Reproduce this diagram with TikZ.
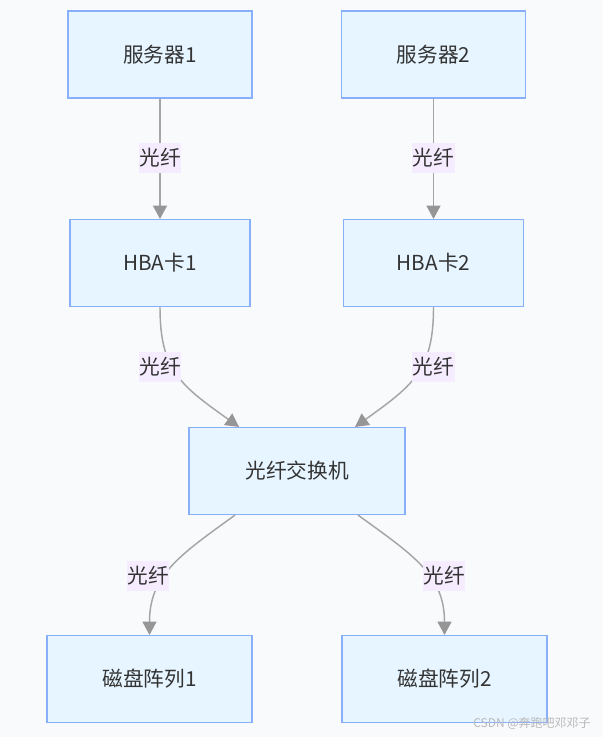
\documentclass[tikz,border=0pt]{standalone}
\usepackage{fontspec}
\newfontfamily\cjk{Noto Sans CJK SC}
\usetikzlibrary{arrows.meta,calc}
\definecolor{bgc}{RGB}{249,250,252}
\definecolor{boxfill}{RGB}{230,245,255}
\definecolor{boxline}{RGB}{135,175,250}
\definecolor{txt}{RGB}{51,51,51}
\definecolor{edgec}{RGB}{165,165,165}
\definecolor{tipc}{RGB}{150,150,150}
\definecolor{lblfill}{RGB}{246,236,255}
\tikzset{
  box/.style={draw=boxline, fill=boxfill, line width=1.1pt, minimum height=65pt,
    text=txt, font=\cjk\fontsize{15.5}{18}\selectfont, inner sep=0pt},
  lbl/.style={fill=lblfill, text=txt, font=\cjk\fontsize{15.5}{18}\selectfont,
    inner sep=0.5pt, minimum height=22pt},
  edge/.style={draw=edgec, line width=1.1pt,
    -{Triangle[width=10.5pt,length=10pt,fill=tipc,color=tipc]}}
}
\begin{document}
\begin{tikzpicture}[x=0.75pt,y=-0.75pt]
\fill[bgc] (0,0) rectangle (603,737);
\useasboundingbox (0,0) rectangle (603,737);

\node[box, minimum width=138pt] (s1) at (160,54.5) {服务器1};
\node[box, minimum width=138pt] (s2) at (433.5,54.5) {服务器2};
\node[box, minimum width=135pt] (h1) at (160,263) {HBA卡1};
\node[box, minimum width=135pt] (h2) at (433.5,263) {HBA卡2};
\node[box, minimum width=162pt] (sw) at (297,471) {光纤交换机};
\node[box, minimum width=154pt] (d1) at (149.5,679) {磁盘阵列1};
\node[box, minimum width=154pt] (d2) at (444.5,679) {磁盘阵列2};

% straight edges
\draw[edge] (s1) -- (h1);
\draw[edge] (s2) -- (h2);
% curved edges into switch
\draw[edge] (h1.south) .. controls (160,370) and (180,385) .. ($(sw.north)+(-58,0)$);
\draw[edge] (h2.south) .. controls (433.5,370) and (413.5,385) .. ($(sw.north)+(58,0)$);
% curved edges out of switch
\draw[edge] ($(sw.south)+(-62,0)$) .. controls (180,555) and (149.5,575) .. (d1.north);
\draw[edge] ($(sw.south)+(61,0)$) .. controls (413,555) and (444.5,575) .. (d2.north);

% labels
\node[lbl] (l1) at (160,158) {光纤};
\node[lbl] (l2) at (433.5,158) {光纤};
\node[lbl] (l3) at (160,367) {光纤};
\node[lbl] (l4) at (433.5,367) {光纤};
\node[lbl] (l5) at (148,576) {光纤};
\node[lbl] (l6) at (444,576) {光纤};

\node[anchor=east, text=gray!55, font=\cjk\fontsize{9}{10}\selectfont, inner sep=0pt] (wm) at (591,723) {CSDN @奔跑吧邓邓子};
\end{tikzpicture}
\end{document}
